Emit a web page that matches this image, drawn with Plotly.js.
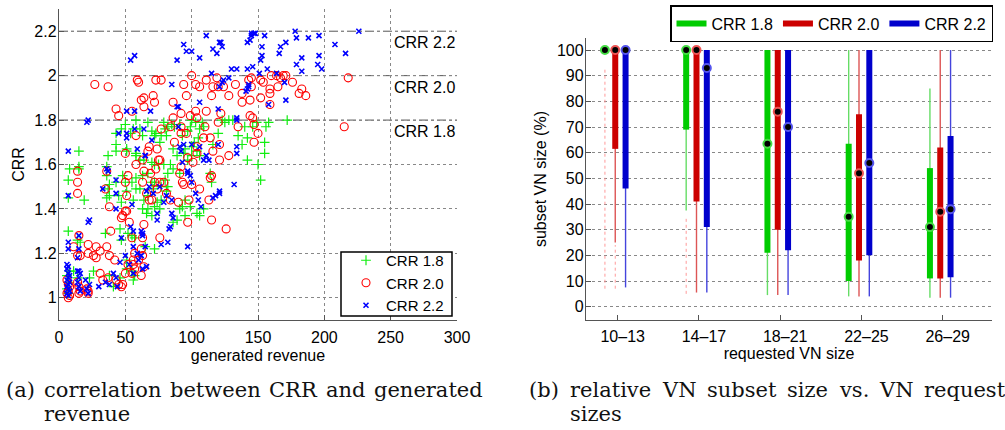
<!DOCTYPE html>
<html><head><meta charset="utf-8">
<script src="https://cdn.plot.ly/plotly-3.0.1.min.js"></script>
<style>html,body{margin:0;padding:0;background:#fff}#chart{width:1005px;height:430px}</style>
</head><body><div id="chart"></div>
<script>
// ---------- (a) scatter data: generated revenue vs CRR ----------
const crr18X = [172,158,156,155,155,150,152,149,146,142,142,140,138,135,131,128,125,123,120,116,115,114,109,108,106,103,100,99,97,105,102,100,104,106,100,97,93,95,94,91,87,85,82,80,79,81,77,76,73,72,70,67,63,61,58,56,54,50,47,43,43,43,51,51,58,58,61,64,70,72,75,79,84,89,86,91,86,82,80,77,72,70,67,63,58,55,50,48,43,38,36,45,47,51,56,58,61,64,67,71,72,74,67,63,66,70,76,77,81,82,91,93,95,89,86,106,104,109,95,99,37,36,36,37,38,8,7,7,15,15,15,19,7,35,46,47,52,55,57,65,72,14,16,23,26,38,41,46,51,51,55,57,56,11,14,8,6,7,6,7];
const crr18Y = [1.80,1.79,1.77,1.70,1.65,1.60,1.53,1.79,1.77,1.72,1.62,1.77,1.69,1.73,1.80,1.80,1.79,1.80,1.74,1.69,1.52,1.56,1.77,1.79,1.76,1.79,1.80,1.77,1.75,1.72,1.70,1.68,1.66,1.64,1.64,1.62,1.73,1.67,1.65,1.78,1.77,1.78,1.77,1.76,1.79,1.73,1.73,1.70,1.74,1.73,1.75,1.79,1.73,1.76,1.80,1.76,1.74,1.78,1.76,1.74,1.69,1.66,1.67,1.66,1.65,1.64,1.62,1.62,1.61,1.60,1.60,1.60,1.60,1.64,1.67,1.56,1.58,1.56,1.53,1.50,1.52,1.52,1.56,1.55,1.54,1.52,1.52,1.55,1.52,1.51,1.45,1.46,1.43,1.48,1.44,1.49,1.49,1.44,1.46,1.49,1.41,1.43,1.40,1.40,1.38,1.37,1.40,1.44,1.48,1.50,1.40,1.41,1.37,1.35,1.34,1.37,1.38,1.40,1.44,1.41,1.64,1.59,1.55,1.49,1.46,1.58,1.53,1.45,1.66,1.59,1.58,1.44,1.30,1.29,1.31,1.26,1.29,1.28,1.27,1.23,1.22,1.26,1.25,1.09,1.12,1.10,1.05,1.09,1.17,1.13,1.12,1.10,1.08,1.12,1.09,1.12,1.10,1.07,1.04,1.02];

const crr20X = [218,215,186,183,181,176,171,169,167,164,160,165,159,159,159,152,154,152,145,145,143,144,138,138,133,128,124,120,119,116,115,111,111,106,103,100,94,96,86,86,92,103,99,104,77,73,71,72,64,62,59,60,64,55,43,45,37,27,58,68,67,58,63,74,75,76,77,84,87,92,92,96,97,101,104,104,109,110,114,116,120,122,121,121,128,135,144,146,147,147,150,50,52,50,51,36,35,38,39,14,14,14,15,11,14,16,22,22,28,26,28,31,36,38,42,31,33,37,43,45,47,48,52,50,55,57,56,57,60,62,64,63,62,63,64,63,64,66,68,70,69,72,74,73,76,79,81,84,90,93,91,92,94,97,98,100,106,115,114,113,115,126,76,48,47,50,51,53,55,56,6,7,8,7,6,8,7,14,15,16,15,21,22,22];
const crr20Y = [1.99,1.77,1.91,1.94,1.92,1.97,2.00,2.00,1.99,2.00,2.00,1.95,1.94,1.92,1.87,1.98,1.97,1.90,1.99,1.95,1.98,1.89,1.92,1.88,1.96,1.91,1.95,1.95,1.99,1.95,1.91,1.98,1.84,1.95,1.96,2.00,1.96,1.91,1.88,1.81,1.83,1.84,1.82,1.81,1.98,1.98,1.91,1.88,1.90,1.89,1.98,1.97,1.86,1.84,1.85,1.82,1.95,1.96,1.73,1.68,1.66,1.60,1.62,1.67,1.62,1.62,1.76,1.77,1.70,1.77,1.74,1.74,1.63,1.61,1.65,1.68,1.72,1.77,1.72,1.66,1.79,1.83,1.62,1.69,1.64,1.77,1.82,1.81,1.78,1.70,1.74,1.65,1.55,1.52,1.46,1.57,1.49,1.41,1.30,1.57,1.52,1.47,1.28,1.23,1.19,1.19,1.24,1.20,1.23,1.19,1.18,1.21,1.23,1.19,1.17,1.11,1.08,1.09,1.08,1.06,1.05,1.06,1.15,1.11,1.11,1.13,1.15,1.20,1.17,1.10,1.14,1.19,1.22,1.27,1.33,1.52,1.57,1.47,1.44,1.44,1.56,1.52,1.49,1.58,1.52,1.52,1.47,1.44,1.43,1.52,1.56,1.59,1.51,1.34,1.44,1.51,1.49,1.55,1.54,1.44,1.35,1.31,1.27,1.37,1.36,1.39,1.39,1.34,1.27,1.17,1.08,1.06,1.05,1.03,1.02,1.01,1.00,1.07,1.05,1.03,1.02,1.04,1.02,1.03];

const crr22X = [226,178,179,188,196,208,216,196,183,179,183,195,198,171,167,166,155,153,153,152,145,147,148,145,144,142,142,146,151,157,164,130,134,128,124,123,121,121,122,123,119,116,115,111,106,100,96,94,89,85,54,57,22,21,51,57,69,45,51,51,57,89,90,90,106,120,134,134,142,143,143,141,158,171,170,134,134,132,121,121,118,116,111,113,106,109,120,105,107,97,94,91,93,92,100,97,97,99,100,103,85,85,86,84,83,82,77,79,81,76,68,66,74,74,71,65,65,64,70,59,55,56,54,62,63,63,65,66,59,56,47,43,43,37,36,33,43,22,23,15,15,14,14,15,16,7,7,7,7,6,7,6,7,8,7,6,8,7,6,7,8,6,7,15,14,16,15,20,21,22,23,30,35,38,41,43,44,46,50,53,56,60,63,62];
const crr22Y = [2.20,2.20,2.17,2.17,2.18,2.14,2.10,2.09,2.08,2.05,2.02,2.05,2.03,2.15,2.13,2.10,2.18,2.13,2.09,2.07,2.19,2.19,2.19,2.18,2.16,2.15,2.03,2.04,2.01,2.03,2.01,2.03,2.03,1.99,1.98,1.97,1.95,2.15,2.15,2.13,2.10,2.12,2.01,2.18,2.08,2.11,2.11,2.14,2.07,1.96,2.07,2.09,1.80,1.79,1.84,1.84,1.84,1.74,1.74,1.72,1.76,1.86,1.86,1.77,1.88,1.85,1.80,1.81,1.94,1.95,1.96,1.93,1.87,1.89,1.97,1.68,1.65,1.51,1.47,1.48,1.46,1.45,1.64,1.62,1.68,1.62,1.69,1.44,1.41,1.23,1.69,1.68,1.61,1.66,1.69,1.57,1.56,1.55,1.52,1.47,1.44,1.38,1.36,1.32,1.31,1.25,1.24,1.43,1.46,1.50,1.50,1.48,1.38,1.35,1.47,1.64,1.64,1.76,1.71,1.67,1.42,1.30,1.32,1.30,1.29,1.28,1.23,1.14,1.20,1.23,1.27,1.53,1.47,1.57,1.58,1.49,1.40,1.34,1.35,1.28,1.22,1.18,1.12,1.12,1.11,1.66,1.46,1.25,1.22,1.15,1.14,1.13,1.11,1.10,1.09,1.08,1.07,1.06,1.05,1.04,1.03,1.02,1.01,1.05,1.07,1.03,1.09,1.08,1.04,1.02,1.06,1.05,1.07,1.06,1.11,1.09,1.05,1.16,1.19,1.15,1.11,1.17,1.13,1.19];

const crrLevels = [1.8, 2.0, 2.2];
const crrLevelLabels = ['CRR 1.8', 'CRR 2.0', 'CRR 2.2'];

// ---------- (b) box data: subset VN size (%) per requested VN size ----------
const vnSizes = ['10\u201313', '14\u201317', '18\u201321', '22\u201325', '26\u201329'];
const g18Lo  = [100, 37.5, 4.5, 4, 3.5];
const g18Q1  = [100, 69, 21, 10, 11];
const g18Med = [100, 100, 63.5, 35, 31];
const g18Q3  = [100, 100, 100, 63.5, 54];
const g18Hi  = [100, 100, 100, 100, 85];
const g18OutHi = [93, 35, null, null, null];
const g18OutLo = [7, 5, null, null, null];

const g20Lo  = [25, 5.5, 4.5, 4, 3.5];
const g20Q1  = [61.5, 41, 30, 18, 11];
const g20Med = [100, 100, 76, 52, 37];
const g20Q3  = [100, 100, 100, 75, 62];
const g20Hi  = [100, 100, 100, 100, 100];
const g20OutHi = [24, null, null, null, null];
const g20OutLo = [7, null, null, null, null];

const g22Lo  = [7.5, 5.5, 4.5, 4, 3.5];
const g22Q1  = [46, 31, 22, 20, 11.5];
const g22Med = [100, 93, 70, 56, 38];
const g22Q3  = [100, 100, 100, 100, 66.5];
const g22Hi  = [100, 100, 100, 100, 100];
const g22OutHi = [null, null, null, null, null];
const g22OutLo = [null, null, null, null, null];

// ---------- layout helpers ----------
const W = 1005, H = 430;
const px = v => v / W, py = v => 1 - v / H;
const FONT = '"Liberation Sans", Arial, sans-serif';

const traces = [];
traces.push({type:'scatter', mode:'markers', name:'CRR 1.8', x:crr18X, y:crr18Y, xaxis:'x', yaxis:'y', legend:'legend',
  marker:{symbol:'cross-thin-open', size:7, color:'#11ee11', line:{width:1.2, color:'#11ee11'}}});
traces.push({type:'scatter', mode:'markers', name:'CRR 2.0', x:crr20X, y:crr20Y, xaxis:'x', yaxis:'y', legend:'legend',
  marker:{symbol:'circle-open', size:8, color:'#ff0000', line:{width:1.1, color:'#ff0000'}}});
traces.push({type:'scatter', mode:'markers', name:'CRR 2.2', x:crr22X, y:crr22Y, xaxis:'x', yaxis:'y', legend:'legend',
  marker:{symbol:'x-thin-open', size:5, color:'#0000ff', line:{width:1.6, color:'#0000ff'}}});

const series = [
  {name:'CRR 1.8', off:-0.157, col:'#00cc00', light:'#66dd66', ring:'#44dd44', lo:g18Lo, q1:g18Q1, med:g18Med, q3:g18Q3, hi:g18Hi, oh:g18OutHi, ol:g18OutLo},
  {name:'CRR 2.0', off:-0.03,  col:'#cc0000', light:'#dd5555', ring:'#ee5555', lo:g20Lo, q1:g20Q1, med:g20Med, q3:g20Q3, hi:g20Hi, oh:g20OutHi, ol:g20OutLo},
  {name:'CRR 2.2', off:0.097,  col:'#0000cc', light:'#4444dd', ring:'#5555ee', lo:g22Lo, q1:g22Q1, med:g22Med, q3:g22Q3, hi:g22Hi, oh:g22OutHi, ol:g22OutLo}
];
function seg(pos, a, b) { const X=[],Y=[]; pos.forEach((p,i)=>{ if(a[i]!=null && b[i]!=null){X.push(p,p,null);Y.push(a[i],b[i],null);} }); return {X,Y}; }
series.forEach(s => {
  const pos = vnSizes.map((_, i) => i + 1 + s.off);
  const o = seg(pos, s.ol, s.oh);
  traces.push({type:'scatter', mode:'lines', x:o.X, y:o.Y, xaxis:'x2', yaxis:'y2', showlegend:false, hoverinfo:'skip',
    line:{color:'#ff9999', width:1, dash:'dot'}});
  const w = seg(pos, s.lo, s.hi);
  traces.push({type:'scatter', mode:'lines', x:w.X, y:w.Y, xaxis:'x2', yaxis:'y2', showlegend:false, line:{color:s.light, width:1.4}});
});
series.forEach(s => {
  const pos = vnSizes.map((_, i) => i + 1 + s.off);
  const b = seg(pos, s.q1, s.q3);
  traces.push({type:'scatter', mode:'lines', name:s.name, x:b.X, y:b.Y, xaxis:'x2', yaxis:'y2', legend:'legend2', line:{color:s.col, width:6}});
});
series.forEach(s => {
  const pos = vnSizes.map((_, i) => i + 1 + s.off);
  traces.push({type:'scatter', mode:'markers', x:pos, y:s.med, xaxis:'x2', yaxis:'y2', showlegend:false,
    marker:{size:8, color:'#000', line:{color:s.ring, width:2}}});
});

const axBase = {showline:true, linecolor:'#555', linewidth:1.2, ticks:'inside', ticklen:5, tickcolor:'#555',
  tickfont:{family:FONT, size:16, color:'#000'}, zeroline:false, griddash:'dot', gridcolor:'#888', gridwidth:1, fixedrange:true};

// caption words, justified with measured widths
const ctx = document.createElement('canvas').getContext('2d');
const CAPFONT = 'DejaVu Serif';
const CAPSIZE = 21;
ctx.font = CAPSIZE + 'px "' + CAPFONT + '"';
const annotations = [];
function justify(words, x0, x1, yc) {
  const ws = words.map(w => ctx.measureText(w).width);
  const gap = (x1 - x0 - ws.reduce((a, b) => a + b, 0)) / (words.length - 1);
  let x = x0; const starts = [];
  words.forEach((w, i) => { starts.push(x);
    annotations.push({xref:'paper', yref:'paper', x:px(x), y:py(yc), xanchor:'left', yanchor:'middle', showarrow:false, text:w,
      font:{family:CAPFONT, size:CAPSIZE, color:'#111'}});
    x += ws[i] + gap; });
  return starts;
}
const sa = justify(['(a)','correlation','between','CRR','and','generated'], 4, 481, 390);
annotations.push({xref:'paper', yref:'paper', x:px(sa[1]), y:py(414), xanchor:'left', yanchor:'middle', showarrow:false, text:'revenue', font:{family:CAPFONT, size:CAPSIZE, color:'#111'}});
const sb = justify(['(b)','relative','VN','subset','size','vs.','VN','request'], 527, 1003, 390);
annotations.push({xref:'paper', yref:'paper', x:px(sb[1]), y:py(414), xanchor:'left', yanchor:'middle', showarrow:false, text:'sizes', font:{family:CAPFONT, size:CAPSIZE, color:'#111'}});

crrLevels.forEach((v, i) => annotations.push({xref:'x', yref:'y', x:300, y:v, xanchor:'right', yanchor:'top', yshift:-1, showarrow:false,
  text:crrLevelLabels[i], font:{family:FONT, size:16, color:'#000'}}));

const shapes = crrLevels.map(v => ({type:'line', xref:'x', yref:'y', x0:0, x1:300, y0:v, y1:v, line:{color:'#555', width:1, dash:'dashdot'}, layer:'below'}));
// frame of the scatter legend
shapes.push({type:'rect', xref:'paper', yref:'paper', x0:px(341), x1:px(452), y0:py(316), y1:py(252), fillcolor:'#fff', line:{color:'#000', width:1.5}, layer:'above'});

const layout = {
  width:W, height:H, margin:{l:0, r:0, t:0, b:0}, paper_bgcolor:'#fff', plot_bgcolor:'#fff',
  font:{family:FONT, size:16, color:'#000'}, showlegend:true,
  xaxis:Object.assign({}, axBase, {domain:[px(59), px(457)], range:[0, 300], tickvals:[0,50,100,150,200,250,300], showgrid:true, anchor:'y', ticklabelstandoff:3,
    title:{text:'generated revenue', font:{family:FONT, size:16}, standoff:4}}),
  yaxis:Object.assign({}, axBase, {domain:[py(320), py(9)], range:[0.9, 2.3], tickvals:[1,1.2,1.4,1.6,1.8,2,2.2], showgrid:true, anchor:'x', ticklabelstandoff:-2,
    title:{text:'CRR', font:{family:FONT, size:16}, standoff:5}}),
  xaxis2:Object.assign({}, axBase, {domain:[px(586), px(992)], range:[0.61, 5.607], tickvals:[1,2,3,4,5], ticktext:vnSizes, showgrid:false, anchor:'y2',
    ticklabelstandoff:2, ticklabelshift:5,
    title:{text:'requested VN size', font:{family:FONT, size:16}, standoff:2}}),
  yaxis2:Object.assign({}, axBase, {domain:[py(320), py(38)], range:[-5.2, 104.7], tickvals:[0,10,20,30,40,50,60,70,80,90,100], showgrid:true, anchor:'x2', ticklabelstandoff:-2,
    title:{text:'subset VN size (%)', font:{family:FONT, size:16}, standoff:6}}),
  legend:{x:px(346), xanchor:'left', y:py(283), yanchor:'middle', bgcolor:'rgba(0,0,0,0)', borderwidth:0,
    font:{family:FONT, size:15, color:'#000'}, tracegroupgap:0},
  legend2:{orientation:'h', x:px(993), xanchor:'right', y:py(5), yanchor:'top', bgcolor:'#fff', bordercolor:'#000', borderwidth:1.5,
    font:{family:FONT, size:16, color:'#000'}},
  shapes:shapes, annotations:annotations
};
Plotly.newPlot('chart', traces, layout, {displayModeBar:false, staticPlot:true});
</script></body></html>
